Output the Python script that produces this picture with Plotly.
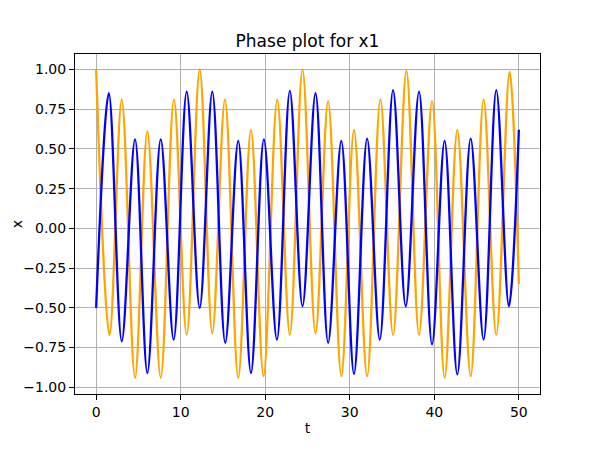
import plotly.graph_objects as go

# turning points (time, value)
t_orange = [0.0, 1.58, 3.03, 4.6, 6.06, 7.64, 9.2, 10.71, 12.25, 13.74,
            15.24, 16.81, 18.31, 19.8, 21.42, 22.91, 24.41, 25.95, 27.44, 29.0,
            30.5, 32.05, 33.62, 35.12, 36.7, 38.19, 39.73, 41.22, 42.72, 44.3,
            45.83, 47.33, 48.9, 50.0]
x_orange = [1.0, -0.67, 0.81, -0.94, 0.61, -0.94, 0.81, -0.67, 1.0, -0.66,
            0.81, -0.94, 0.62, -0.93, 0.81, -0.67, 1.0, -0.66, 0.80, -0.93,
            0.62, -0.93, 0.81, -0.67, 0.99, -0.67, 0.80, -0.94, 0.62, -0.93,
            0.81, -0.67, 0.985, -0.35]

t_blue = [0.0, 1.5, 3.03, 4.6, 6.06, 7.64, 9.17, 10.71, 12.25, 13.74,
          15.27, 16.81, 18.31, 19.84, 21.38, 22.91, 24.41, 25.95, 27.44, 29.0,
          30.5, 32.05, 33.55, 35.12, 36.62, 38.19, 39.73, 41.22, 42.72, 44.3,
          45.83, 47.33, 48.82, 50.0]
x_blue = [-0.5, 0.85, -0.71, 0.56, -0.91, 0.56, -0.70, 0.86, -0.5, 0.86,
          -0.72, 0.55, -0.91, 0.56, -0.70, 0.865, -0.49, 0.85, -0.72, 0.55,
          -0.915, 0.565, -0.70, 0.87, -0.49, 0.86, -0.73, 0.55, -0.92, 0.565,
          -0.70, 0.87, -0.49, 0.62]

x_ticks = [0, 10, 20, 30, 40, 50]
y_ticks = [-1.0, -0.75, -0.5, -0.25, 0.0, 0.25, 0.5, 0.75, 1.0]

font = "DejaVu Sans"

fig = go.Figure()
fig.add_trace(go.Scatter(x=t_orange, y=x_orange, mode="lines",
                         line=dict(color="orange", width=2.3, shape="spline")))
fig.add_trace(go.Scatter(x=t_blue, y=x_blue, mode="lines",
                         line=dict(color="blue", width=2.3, shape="spline")))

axis_style = dict(showgrid=True, gridcolor="#b0b0b0", gridwidth=1,
                  showline=True, linecolor="black", linewidth=1, mirror=True,
                  ticks="outside", ticklen=5, tickcolor="black", tickwidth=1,
                  zeroline=False, automargin=False,
                  tickfont=dict(family=font, size=14, color="black"))

# page body adds an 8px margin, so the figure is offset to compensate
fig.update_layout(
    width=600, height=450, autosize=False,
    margin=dict(l=67, r=68, t=46, b=64),
    paper_bgcolor="white", plot_bgcolor="white",
    showlegend=False,
    title=dict(text="Phase plot for x1", x=0.5, xref="paper", xanchor="center",
               y=1 - 33 / 450, yref="container", yanchor="middle", automargin=False,
               font=dict(family=font, size=17, color="black")),
    xaxis=dict(axis_style, range=[-2.5, 52.5], tickvals=x_ticks,
               title=dict(text="t", font=dict(family=font, size=14, color="black"), standoff=4)),
    yaxis=dict(axis_style, range=[-1.042, 1.097], tickvals=y_ticks, tickformat=".2f"),
)

# y label sits further out than plotly puts it with fixed margins
fig.add_annotation(text="x", textangle=-90, xref="paper", yref="paper",
                   x=-0.124, y=0.5, xanchor="center", yanchor="middle",
                   showarrow=False, borderpad=0,
                   font=dict(family=font, size=14, color="black"))

fig.write_html("out.html")
